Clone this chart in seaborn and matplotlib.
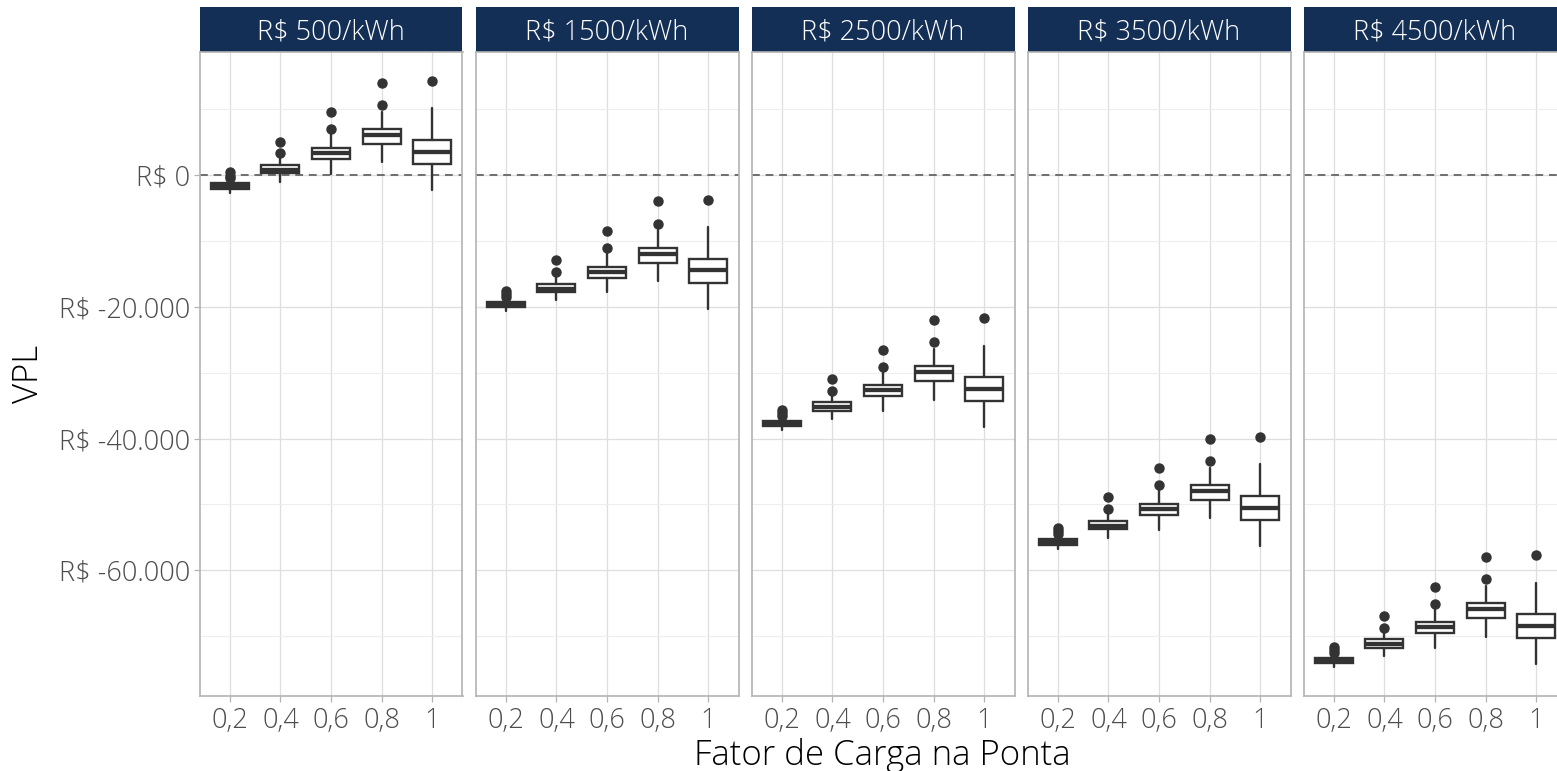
import numpy as np
import pandas as pd
import matplotlib
matplotlib.use("Agg")
import matplotlib.pyplot as plt
import seaborn as sns
from matplotlib.ticker import FuncFormatter, MultipleLocator, FixedLocator
from matplotlib.patches import Rectangle

# Facets (price of storage) and x categories (peak load factor)
precos = ["R$ 500/kWh", "R$ 1500/kWh", "R$ 2500/kWh", "R$ 3500/kWh", "R$ 4500/kWh"]
fatores = ["0,2", "0,4", "0,6", "0,8", "1"]

# Box statistics of VPL (R$), one row per facet, one column per load factor
whislo = [
    [-2690, -1020, 200, 1930, -2280],
    [-20690, -19020, -17800, -16070, -20280],
    [-38690, -37020, -35800, -34070, -38280],
    [-56690, -55020, -53800, -52070, -56280],
    [-74690, -73020, -71800, -70070, -74280],
]
q1 = [
    [-2080, 260, 2430, 4710, 1670],
    [-20080, -17740, -15570, -13290, -16330],
    [-38080, -35740, -33570, -31290, -34330],
    [-56080, -53740, -51570, -49290, -52330],
    [-74080, -71740, -69570, -67290, -70330],
]
mediana = [
    [-1700, 760, 3350, 6070, 3540],
    [-19700, -17240, -14650, -11930, -14460],
    [-37700, -35240, -32650, -29930, -32460],
    [-55700, -53240, -50650, -47930, -50460],
    [-73700, -71240, -68650, -65930, -68460],
]
q3 = [
    [-1260, 1520, 4100, 6990, 5320],
    [-19260, -16480, -13900, -11010, -12680],
    [-37260, -34480, -31900, -29010, -30680],
    [-55260, -52480, -49900, -47010, -48680],
    [-73260, -70480, -67900, -65010, -66680],
]
whishi = [
    [-1000, 2540, 6200, 9600, 10130],
    [-19000, -15460, -11800, -8400, -7870],
    [-37000, -33460, -29800, -26400, -25870],
    [-55000, -51460, -47800, -44400, -43870],
    [-73000, -69460, -65800, -62400, -61870],
]
outliers = [
    [[-500, -100, 400], [3300, 5060], [6940, 9500], [10630, 14000], [14270]],
    [[-18500, -18100, -17600], [-14700, -12940], [-11060, -8500], [-7370, -4000], [-3730]],
    [[-36500, -36100, -35600], [-32700, -30940], [-29060, -26500], [-25370, -22000], [-21730]],
    [[-54500, -54100, -53600], [-50700, -48940], [-47060, -44500], [-43370, -40000], [-39730]],
    [[-72500, -72100, -71600], [-68700, -66940], [-65060, -62500], [-61370, -58000], [-57730]],
]

rows = []
for i, preco in enumerate(precos):
    for j, fator in enumerate(fatores):
        rows.append(dict(preco=preco, fator=fator, pos=j,
                         whislo=whislo[i][j], q1=q1[i][j], med=mediana[i][j],
                         q3=q3[i][j], whishi=whishi[i][j], fliers=outliers[i][j]))
df = pd.DataFrame(rows)

sns.set_theme(style="whitegrid")
plt.rcParams["font.family"] = ["Open Sans", "DejaVu Sans"]
plt.rcParams["font.weight"] = "light"

INK = "#333333"
GRID_MAJOR = "#DEDEDE"
GRID_MINOR = "#EEEEEE"
BORDER = "#B3B3B3"
STRIP = "#142F56"
TICK_TXT = "#4D4D4D"

W, H = 1557, 771
g = sns.FacetGrid(df, col="preco", col_order=precos, sharey=True, sharex=True,
                  height=7.71, aspect=15.57 / 7.71 / 5, despine=False)
fig = g.figure
fig.set_size_inches(W / 100, H / 100)


def draw_boxes(data, **kws):
    ax = plt.gca()
    stats = [dict(med=r.med, q1=r.q1, q3=r.q3, whislo=r.whislo, whishi=r.whishi,
                  fliers=np.array(r.fliers, dtype=float))
             for r in data.itertuples()]
    ax.axhline(0, color="#6E6E6E", lw=1.4, ls=(0, (4, 3)), zorder=1.5)
    ax.bxp(stats, positions=list(data["pos"]), widths=0.75, patch_artist=True,
           showcaps=False,
           boxprops=dict(facecolor="white", edgecolor=INK, linewidth=1.7),
           medianprops=dict(color=INK, linewidth=3.1, solid_capstyle="butt"),
           whiskerprops=dict(color=INK, linewidth=1.7),
           flierprops=dict(marker="o", markerfacecolor=INK, markeredgecolor=INK,
                           markersize=6.5, linestyle="none"),
           zorder=3)


g.map_dataframe(draw_boxes)
g.set_titles("")

fmt = FuncFormatter(lambda v, p: "R$ " + f"{v:,.0f}".replace(",", "."))

panel_w = 263
step = 276
top, bottom = 52, 696
for i, ax in enumerate(g.axes.flat):
    left = 199.5 + step * i
    ax.set_position([left / W, (H - bottom) / H, panel_w / W, (bottom - top) / H])
    ax.set_xlim(-0.6, 4.6)
    ax.set_ylim(-79070, 18680)
    ax.xaxis.set_major_locator(FixedLocator(range(len(fatores))))
    ax.set_xticklabels(fatores)
    ax.yaxis.set_major_locator(MultipleLocator(20000))
    ax.yaxis.set_minor_locator(MultipleLocator(10000))
    ax.yaxis.set_major_formatter(fmt)
    ax.set_facecolor("white")
    ax.grid(which="major", color=GRID_MAJOR, lw=0.9)
    ax.grid(which="minor", axis="y", color=GRID_MINOR, lw=0.8)
    ax.grid(which="minor", axis="x", visible=False)
    ax.set_axisbelow(True)
    for s in ax.spines.values():
        s.set_color(BORDER)
        s.set_linewidth(1.2)
        s.set_visible(True)
    ax.tick_params(axis="x", which="major", length=4, width=0.9, color=BORDER,
                   labelsize=19.5, labelcolor=TICK_TXT, pad=4, bottom=True)
    ax.tick_params(axis="y", which="major", length=4, width=0.9, color=BORDER,
                   labelsize=19.5, labelcolor=TICK_TXT, pad=3, left=(i == 0),
                   labelleft=(i == 0))
    ax.tick_params(axis="y", which="minor", length=0)
    ax.set_xlabel("")
    ax.set_ylabel("")
    # strip header
    strip_h = 45 / (bottom - top)
    ax.add_patch(Rectangle((0, 1), 1, strip_h, transform=ax.transAxes,
                           facecolor=STRIP, edgecolor="none", clip_on=False))
    ax.text(0.5, 1 + strip_h / 2 - 0.004, precos[i], transform=ax.transAxes,
            ha="center", va="center", color="white", fontsize=19.5)

fig.text(29 / W, 1 - 374 / H, "VPL", rotation=90, ha="center", va="center",
         fontsize=25, color="black")
fig.text(882.5 / W, 1 - 765 / H, "Fator de Carga na Ponta", ha="center",
         va="baseline", fontsize=25, color="black")

fig.savefig("out.png", dpi=100, facecolor="white")
